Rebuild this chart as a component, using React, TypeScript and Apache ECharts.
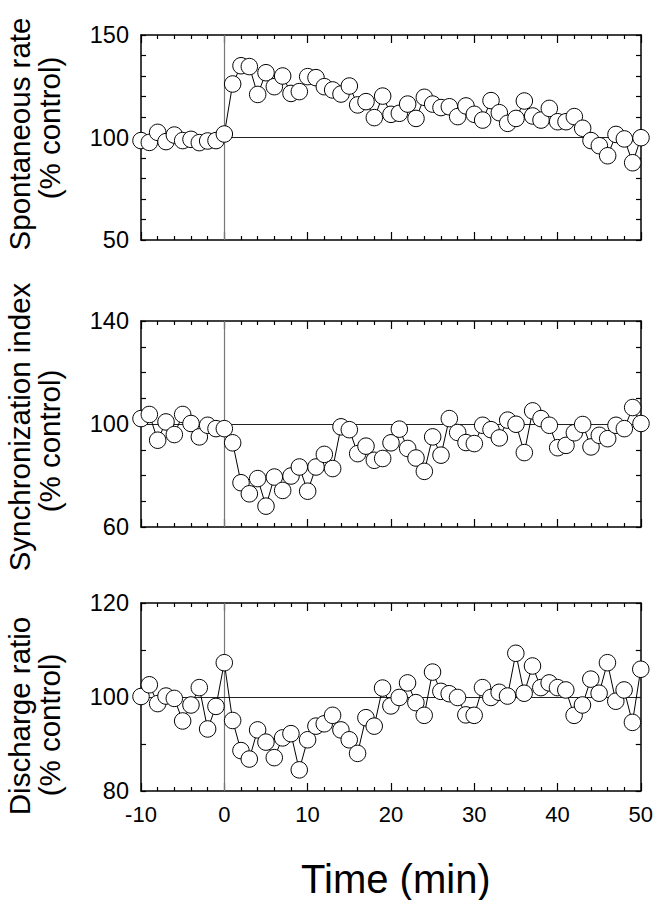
import React, { useEffect, useRef } from "react";
import * as echarts from "echarts";

const times = [
  -10, -9, -8, -7, -6, -5, -4, -3, -2, -1, 0, 1, 2, 3, 4, 5, 6, 7, 8, 9, 10,
  11, 12, 13, 14, 15, 16, 17, 18, 19, 20, 21, 22, 23, 24, 25, 26, 27, 28, 29, 30,
  31, 32, 33, 34, 35, 36, 37, 38, 39, 40, 41, 42, 43, 44, 45, 46, 47, 48, 49, 50,
];

const spontaneousRate = [
  98.5, 97.6, 102.5, 98, 101.2, 98.5, 99.1, 97.5, 98.3, 98.5, 101.7,
  126.1, 135, 134.6, 121, 131.6, 124.8, 130, 121.5, 122.4, 129.7,
  129.2, 124.8, 123.2, 121.2, 125.1, 115.9, 117.5, 109.7, 120.2, 111.3,
  111.8, 116.3, 109.3, 119.6, 116.3, 114.6, 115.0, 110.2, 115.4, 111.3,
  108.5, 118.0, 112.1, 106.9, 109.3, 117.8, 110.5, 108.5, 114.2, 107.7,
  107.7, 110.2, 104.5, 98.5, 96.0, 91.1, 101.5, 99.3, 87.7, 99.9,
];

const synchronizationIndex = [
  102.1, 103.7, 93.7, 100.8, 95.9, 103.7, 100.2, 95.0, 99.5, 98.2, 98.2,
  92.7, 77.2, 72.9, 78.8, 68.1, 79.4, 74.2, 79.8, 83.3, 73.9,
  83.3, 88.2, 82.7, 98.9, 97.8, 88.5, 91.4, 85.9, 86.6, 92.7,
  98.0, 90.5, 86.8, 81.6, 95.0, 87.9, 102.1, 96.7, 92.8, 92.4,
  99.5, 97.8, 94.6, 101.5, 99.9, 88.9, 105.1, 102.1, 99.5, 90.8,
  91.7, 96.6, 99.8, 91.1, 95.6, 94.3, 99.5, 98.2, 106.4, 100.2,
];

const dischargeRatio = [
  100.1, 102.6, 98.6, 100.2, 99.7, 94.9, 98.3, 102.0, 93.2, 98.0, 107.3,
  95.0, 88.6, 86.8, 93.0, 90.4, 87.1, 91.3, 92.2, 84.5, 90.9,
  93.8, 94.3, 96.1, 93.0, 90.9, 88.0, 95.6, 93.8, 101.9, 98.1,
  99.9, 103.0, 98.8, 96.1, 105.3, 101.2, 100.7, 99.9, 96.2, 96.1,
  102.0, 99.9, 101.0, 100.2, 109.3, 100.8, 106.6, 102.0, 103.0, 102.0,
  101.5, 96.1, 98.3, 103.8, 100.8, 107.3, 99.1, 101.5, 94.6, 105.9,
];

const panelNames = ["Spontaneous rate", "Synchronization index", "Discharge ratio"];
const unitName = "(% control)";
const xTitle = "Time (min)";
const xRange = [-10, 50];
const xInterval = 10;
const yRanges = [
  [50, 150, 50],
  [60, 140, 40],
  [80, 120, 20],
];
const yMinorSplits = [5, 4, 2];
const refTime = 0;
const refLevel = 100;

const FONT = "'Liberation Sans', Arial, Helvetica, sans-serif";

export default function App() {
  const ref = useRef<HTMLDivElement>(null);

  useEffect(() => {
    if (!ref.current) return;
    const chart = echarts.init(ref.current, undefined, { renderer: "svg" });

    const grids = [
      { left: 141, right: 15, top: 35, height: 205 },
      { left: 141, right: 15, top: 321, height: 206 },
      { left: 141, right: 15, top: 603, height: 206 },
    ];
    const seriesData = [spontaneousRate, synchronizationIndex, dischargeRatio];

    const axisLine = () => ({ show: true, onZero: false, lineStyle: { color: "#000", width: 1.5 } });
    const tick = (len: number) => ({ show: true, inside: true, length: len, lineStyle: { color: "#000", width: 1.2 } });
    const minor = (split: number, len: number) => ({
      show: true,
      splitNumber: split,
      length: len,
      lineStyle: { color: "#000", width: 1.2 },
    });
    const xAxes: any[] = [];
    const yAxes: any[] = [];
    const series: any[] = [];

    grids.forEach((_, i) => {
      const isBottom = i === 2;
      xAxes.push({
        type: "value",
        gridIndex: i,
        position: "bottom",
        min: xRange[0],
        max: xRange[1],
        interval: xInterval,
        axisLine: axisLine(),
        axisTick: tick(8),
        minorTick: minor(5, 4),
        axisLabel: {
          show: isBottom,
          margin: 12,
          fontSize: 22,
          color: "#000",
          fontFamily: FONT,
        },
        splitLine: { show: false },
        minorSplitLine: { show: false },
        name: isBottom ? xTitle : "",
        nameLocation: "middle",
        nameGap: 68,
        nameTextStyle: { fontSize: 40, color: "#000", fontFamily: FONT, padding: [0, 0, 0, 10] },
      });
      xAxes.push({
        type: "value",
        gridIndex: i,
        position: "top",
        min: xRange[0],
        max: xRange[1],
        interval: xInterval,
        axisLine: axisLine(),
        axisTick: tick(8),
        minorTick: minor(5, 4),
        axisLabel: { show: false },
        splitLine: { show: false },
        minorSplitLine: { show: false },
      });
      const [ymin, ymax, yint] = yRanges[i];
      yAxes.push({
        type: "value",
        gridIndex: i,
        position: "left",
        min: ymin,
        max: ymax,
        interval: yint,
        axisLine: axisLine(),
        axisTick: tick(5),
        minorTick: minor(yMinorSplits[i], 5),
        axisLabel: { show: true, margin: 12, fontSize: 23.5, color: "#000", fontFamily: FONT },
        splitLine: { show: false },
        minorSplitLine: { show: false },
      });
      yAxes.push({
        type: "value",
        gridIndex: i,
        position: "right",
        min: ymin,
        max: ymax,
        interval: yint,
        axisLine: axisLine(),
        axisTick: tick(5),
        minorTick: minor(yMinorSplits[i], 5),
        axisLabel: { show: false },
        splitLine: { show: false },
        minorSplitLine: { show: false },
      });

      series.push({
        type: "line",
        xAxisIndex: i * 2,
        yAxisIndex: i * 2,
        data: [],
        silent: true,
        z: 1,
        markLine: {
          silent: true,
          symbol: ["none", "none"],
          label: { show: false },
          animation: false,
          data: [
            { xAxis: refTime, lineStyle: { color: "#777", width: 1.2, type: "solid" } },
            { yAxis: refLevel, lineStyle: { color: "#222", width: 1, type: "solid" } },
          ],
        },
      });
      series.push({
        type: "line",
        xAxisIndex: i * 2,
        yAxisIndex: i * 2,
        z: 5,
        data: times.map((t, k) => [t, seriesData[i][k]]),
        symbol: "circle",
        symbolSize: 16.5,
        showAllSymbol: true,
        lineStyle: { color: "#000", width: 1 },
        itemStyle: { color: "#fff", borderColor: "#000", borderWidth: 1 },
      });
    });

    const nameCenters = [
      { y1: 134, y2: 128 },
      { y1: 427, y2: 441 },
      { y1: 716, y2: 725 },
    ];
    const graphic: any[] = [];
    nameCenters.forEach((c, i) => {
      graphic.push({
        type: "text",
        x: 19,
        y: c.y1,
        rotation: Math.PI / 2,
        style: {
          text: panelNames[i],
          fontSize: 29.5,
          fontFamily: FONT,
          fill: "#000",
          textAlign: "center",
          textVerticalAlign: "middle",
        },
      });
      graphic.push({
        type: "text",
        x: 49,
        y: c.y2,
        rotation: Math.PI / 2,
        style: {
          text: unitName,
          fontSize: 29.5,
          fontFamily: FONT,
          fill: "#000",
          textAlign: "center",
          textVerticalAlign: "middle",
        },
      });
    });

    chart.setOption({
      animation: false,
      backgroundColor: "#fff",
      grid: grids,
      xAxis: xAxes,
      yAxis: yAxes,
      series,
      graphic,
    });

    return () => {
      chart.dispose();
    };
  }, []);

  return (
    <div
      ref={ref}
      style={{ position: "fixed", left: 0, top: 0, width: 656, height: 900, background: "#fff" }}
    />
  );
}
